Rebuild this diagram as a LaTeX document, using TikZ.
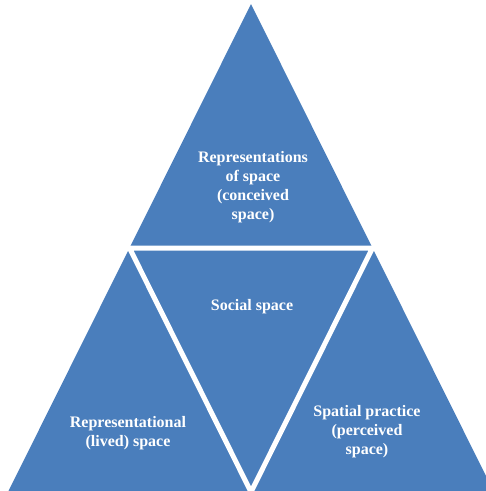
\documentclass[tikz,border=0pt]{standalone}
\usepackage{fontspec}
\setmainfont{Liberation Serif}
\usetikzlibrary{calc}
\definecolor{tri}{HTML}{4A7EBC}
\begin{document}
\begin{tikzpicture}[x=1pt,y=-1pt,
  lbl/.style={text=white,font=\fontsize{16}{19}\selectfont\bfseries,align=center,inner sep=0pt}]
\useasboundingbox (0,0) rectangle (486,491);
\clip (0,0) rectangle (486,491);
\coordinate (A) at (251,4);
\coordinate (B) at (8,492);
\coordinate (C) at (494,492);
\coordinate (mAB) at ($(A)!0.5!(B)$);
\coordinate (mAC) at ($(A)!0.5!(C)$);
\coordinate (mBC) at ($(B)!0.5!(C)$);
\fill[tri] (A) -- (B) -- (C) -- cycle;
\draw[white,line width=5,line join=miter] (mAB) -- (mAC) -- (mBC) -- cycle;
\node[lbl] (top) at (253,187) {Representations\\of space\\(conceived\\space)};
\node[lbl] (mid) at (252,307) {Social space};
\node[lbl] (left) at (128,433) {Representational\\(lived) space};
\node[lbl] (right) at (367,432) {Spatial practice\\(perceived\\space)};
\end{tikzpicture}
\end{document}
